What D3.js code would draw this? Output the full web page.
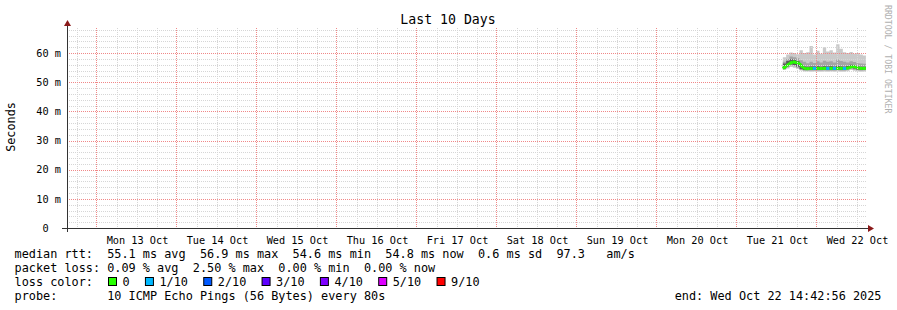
<!DOCTYPE html>
<html>
<head>
<meta charset="utf-8">
<script src="https://cdn.jsdelivr.net/npm/d3@7"></script>
<style>
  html, body { margin: 0; padding: 0; background: #fff; overflow: hidden; }
  svg { display: block; }
  text { font-family: "DejaVu Sans Mono", monospace; }
</style>
</head>
<body>
<div id="chart"></div>
<script>
// chart data
var titleText = "Last 10 Days";
var endTime = "2025-10-22T14:42:56Z";
var yTicks = [0, 10, 20, 30, 40, 50, 60];

var sampleTimes = [
  "2025-10-21T13:45Z", "2025-10-21T14:45Z", "2025-10-21T15:45Z", "2025-10-21T16:45Z",
  "2025-10-21T17:45Z", "2025-10-21T18:45Z", "2025-10-21T19:45Z", "2025-10-21T20:45Z",
  "2025-10-21T21:45Z", "2025-10-21T22:45Z", "2025-10-21T23:45Z", "2025-10-22T00:45Z",
  "2025-10-22T01:45Z", "2025-10-22T02:45Z", "2025-10-22T03:45Z", "2025-10-22T04:45Z",
  "2025-10-22T05:45Z", "2025-10-22T06:45Z", "2025-10-22T07:45Z", "2025-10-22T08:45Z",
  "2025-10-22T09:45Z", "2025-10-22T10:45Z", "2025-10-22T11:45Z", "2025-10-22T12:45Z",
  "2025-10-22T13:45Z", "2025-10-22T14:40Z"
];
// median rtt in ms
var median = [54.7, 55.5, 56.4, 57.0, 56.8, 56.4, 55.0, 54.6, 54.7, 54.7, 54.8, 54.7, 54.7,
              54.8, 54.7, 54.8, 54.7, 54.8, 54.7, 54.7, 55.0, 55.5, 55.1, 54.8, 54.7, 54.8];
// smoke envelopes (outer -> inner)
var smokeMax = [56.5, 58.6, 59.5, 60.2, 60.0, 59.6, 61.0, 60.0, 60.3, 62.4, 59.5, 60.8, 59.8,
                62.0, 60.5, 61.0, 60.2, 63.0, 61.5, 60.3, 60.0, 60.4, 59.8, 60.0, 59.5, 59.2];
var smokeHi2 = [55.8, 57.0, 58.0, 58.8, 58.6, 58.2, 57.5, 57.0, 56.5, 57.0, 56.6, 57.2, 56.8,
                57.4, 57.0, 57.2, 56.8, 57.8, 57.3, 57.0, 56.8, 57.2, 56.9, 56.5, 56.4, 56.3];
var smokeHi3 = [55.3, 56.4, 57.3, 57.9, 57.7, 57.3, 56.0, 55.4, 55.3, 55.4, 55.4, 55.5, 55.3,
                55.5, 55.4, 55.5, 55.3, 55.6, 55.4, 55.3, 55.6, 56.0, 55.7, 55.4, 55.3, 55.3];
var smokeLo3 = [54.1, 54.7, 55.5, 56.1, 55.9, 55.3, 54.5, 54.2, 54.3, 54.3, 54.4, 54.3, 54.3,
                54.4, 54.3, 54.4, 54.3, 54.4, 54.3, 54.3, 54.6, 55.0, 54.7, 54.4, 54.3, 54.4];
var smokeLo2 = [54.0, 54.5, 55.1, 55.7, 55.5, 55.0, 54.2, 54.0, 54.0, 54.0, 54.0, 54.0, 54.0,
                54.1, 54.0, 54.0, 54.0, 54.1, 54.0, 54.0, 54.2, 54.6, 54.3, 54.1, 54.0, 54.1];
var smokeMin = [53.8, 54.2, 54.7, 55.2, 55.0, 54.5, 54.0, 53.7, 53.7, 53.6, 53.7, 53.6, 53.6,
                53.7, 53.6, 53.7, 53.6, 53.7, 53.6, 53.6, 53.8, 54.2, 53.9, 53.7, 53.6, 53.7];
// lost pings out of 10 per sample
var lossCount = [0, 0, 0, 0, 0, 0, 0, 0, 0, 0, 1, 0, 0, 0, 1, 0, 1, 0, 0, 1, 0, 0, 0, 0, 0, 0];

var lossLabels = ["0", "1/10", "2/10", "3/10", "4/10", "5/10", "9/10"];
var lossLevels = [0, 1, 2, 3, 4, 5, 9];
var lossColors = ["#26ff00", "#00b8ff", "#0059ff", "#5e00ff", "#7e00ff", "#dd00ff", "#ff0000"];

var rttStats = ["55.1 ms avg", "56.9 ms max", "54.6 ms min", "54.8 ms now", "0.6 ms sd", "97.3   am/s"];
var lossStats = ["0.09 % avg", "2.50 % max", "0.00 % min", "0.00 % now"];
var probeText = "10 ICMP Echo Pings (56 Bytes) every 80s";

//keep runs of spaces in svg text
var nb = function(s) { return s.replace(/ /g, "\u00a0"); };

//sizes
var outerWidth = 897, outerHeight = 310;
var margin = {top: 28, left: 67};
var innerWidth = 800, innerHeight = 200;

var svg = d3.select("#chart").append("svg")
  .attr("width", outerWidth)
  .attr("height", outerHeight);

var g = svg.append("g")
  .attr("transform", "translate(" + margin.left + "," + margin.top + ")");

var end = d3.isoParse(endTime);
// rrdtool shows the window on whole hours
var axisEnd = d3.utcHour.ceil(end);
var start = d3.utcDay.offset(axisEnd, -10);

var xScale = d3.scaleUtc().domain([start, axisEnd]).range([0, innerWidth]);
var yScale = d3.scaleLinear().domain([0, 68.6]).range([innerHeight, 0]);

var times = sampleTimes.map(function(d) { return d3.isoParse(d); });

// smoke layers
var layers = [
  {lo: smokeMin, hi: smokeMax, color: "#cacaca"},
  {lo: smokeLo2, hi: smokeHi2, color: "#a4a4a4"},
  {lo: smokeLo3, hi: smokeHi3, color: "#5a5a5a"}
];
layers.forEach(function(l) {
  var area = d3.area()
    .curve(d3.curveStepBefore)
    .x(function(d, i) { return xScale(times[i]); })
    .y0(function(d, i) { return yScale(l.lo[i]); })
    .y1(function(d, i) { return yScale(l.hi[i]); });
  g.append("path")
    .attr("d", area(times))
    .attr("fill", l.color);
});

// median line coloured by loss
for (var i = 1; i < times.length; i++) {
  var c = lossColors[lossLevels.indexOf(lossCount[i])];
  g.append("line")
    .attr("x1", xScale(times[i - 1]))
    .attr("y1", yScale(median[i - 1]))
    .attr("x2", xScale(times[i]))
    .attr("y2", yScale(median[i]))
    .attr("stroke", c)
    .attr("stroke-width", 3)
    .attr("stroke-linecap", "butt");
}

// grid (drawn on top like rrdtool)
var minorColor = "#d6d6d6", majorColor = "#f08888";
var minorY = d3.range(0, 69, 2).filter(function(d) { return d % 10 !== 0; });
g.selectAll(".hminor").data(minorY).enter().append("line")
  .attr("x1", 0).attr("x2", innerWidth)
  .attr("y1", function(d) { return Math.round(yScale(d)) + 0.5; })
  .attr("y2", function(d) { return Math.round(yScale(d)) + 0.5; })
  .attr("stroke", minorColor)
  .attr("stroke-dasharray", "1,1");

var sixHours = d3.utcHour.every(6).range(start, axisEnd).filter(function(d) { return d.getUTCHours() !== 0; });
g.selectAll(".vminor").data(sixHours).enter().append("line")
  .attr("y1", 0).attr("y2", innerHeight)
  .attr("x1", function(d) { return Math.round(xScale(d)) + 0.5; })
  .attr("x2", function(d) { return Math.round(xScale(d)) + 0.5; })
  .attr("stroke", minorColor)
  .attr("stroke-dasharray", "1,1");

g.selectAll(".hmajor").data(yTicks.slice(1)).enter().append("line")
  .attr("x1", 0).attr("x2", innerWidth)
  .attr("y1", function(d) { return Math.round(yScale(d)) + 0.5; })
  .attr("y2", function(d) { return Math.round(yScale(d)) + 0.5; })
  .attr("stroke", majorColor)
  .attr("stroke-dasharray", "1,1");

var days = d3.utcDay.range(start, axisEnd);
g.selectAll(".vmajor").data(days).enter().append("line")
  .attr("y1", 0).attr("y2", innerHeight)
  .attr("x1", function(d) { return Math.round(xScale(d)) - 0.5; })
  .attr("x2", function(d) { return Math.round(xScale(d)) - 0.5; })
  .attr("stroke", majorColor)
  .attr("stroke-dasharray", "1,1");

// axes
var yAxis = d3.axisLeft(yScale).tickValues(yTicks).tickSize(0).tickPadding(6)
  .tickFormat(function(d) { return d === 0 ? "0" : d + nb(" m"); });
g.append("g").attr("class", "y axis").call(yAxis)
  .call(function(s) { s.select(".domain").remove(); })
  .selectAll("text")
  .attr("font-size", "10.25px")
  .attr("fill", "#000")
  .attr("dx", function(d) { return d === 0 ? -12.3 : 0; });

var noons = days.map(function(d) { return d3.utcHour.offset(d, 12); })
  .filter(function(d) { return d < axisEnd; });
var xAxis = d3.axisBottom(xScale).tickValues(noons).tickSize(0).tickPadding(9)
  .tickFormat(function(d) { return nb(d3.utcFormat("%a %d %b")(d)); });
g.append("g").attr("class", "x axis")
  .attr("transform", "translate(0," + innerHeight + ")")
  .call(xAxis)
  .call(function(s) { s.select(".domain").remove(); })
  .selectAll("text")
  .attr("font-size", "10.25px")
  .attr("fill", "#000");

// axis lines with arrows
g.append("line").attr("x1", -5).attr("x2", innerWidth + 2)
  .attr("y1", innerHeight + 0.5).attr("y2", innerHeight + 0.5)
  .attr("stroke", "#333");
g.append("line").attr("x1", 0.5).attr("x2", 0.5)
  .attr("y1", innerHeight + 4).attr("y2", -3)
  .attr("stroke", "#333");
g.append("path")
  .attr("d", "M" + (innerWidth + 1) + "," + (innerHeight - 3) + "L" + (innerWidth + 7) + "," + (innerHeight + 0.5) + "L" + (innerWidth + 1) + "," + (innerHeight + 4) + "Z")
  .attr("fill", "#8b1a1a");
g.append("path")
  .attr("d", "M-3," + (-2) + "L0.5," + (-8) + "L4," + (-2) + "Z")
  .attr("fill", "#8b1a1a");

// title, unit, watermark
svg.append("text").attr("x", 448).attr("y", 23.5)
  .attr("text-anchor", "middle").attr("font-size", "13.2px")
  .text(nb(titleText));

svg.append("text")
  .attr("transform", "translate(15,127) rotate(-90)")
  .attr("text-anchor", "middle").attr("font-size", "11.8px")
  .text("Seconds");

svg.append("text")
  .attr("transform", "translate(885,5) rotate(90)")
  .attr("font-size", "8.2px").attr("fill", "#b0b0b0")
  .text(nb("RRDTOOL / TOBI OETIKER"));

// legend
var lx = 14.5, fs = "11.85px", cw = 7.13;
svg.append("text").attr("x", lx).attr("y", 258).attr("font-size", fs)
  .text(nb("median rtt:  " + rttStats.join("  ")));
svg.append("text").attr("x", lx).attr("y", 272).attr("font-size", fs)
  .text(nb("packet loss: " + lossStats.join("  ")));
svg.append("text").attr("x", lx).attr("y", 286).attr("font-size", fs)
  .text(nb("loss color:"));
var bx = 108;
lossLabels.forEach(function(lab, k) {
  svg.append("rect").attr("x", bx + 0.5).attr("y", 277.5).attr("width", 8).attr("height", 8)
    .attr("fill", lossColors[k]).attr("stroke", "#000");
  svg.append("text").attr("x", bx + 14.5).attr("y", 286).attr("font-size", fs).text(lab);
  bx = bx + 14.5 + lab.length * cw + 15.3;
});
svg.append("text").attr("x", lx).attr("y", 300).attr("font-size", fs)
  .text(nb("probe:       " + probeText));
svg.append("text").attr("x", 881.5).attr("y", 300).attr("font-size", fs)
  .attr("text-anchor", "end")
  .text(nb("end: " + d3.utcFormat("%a %b %d %H:%M:%S %Y")(end)));
</script>
</body>
</html>
